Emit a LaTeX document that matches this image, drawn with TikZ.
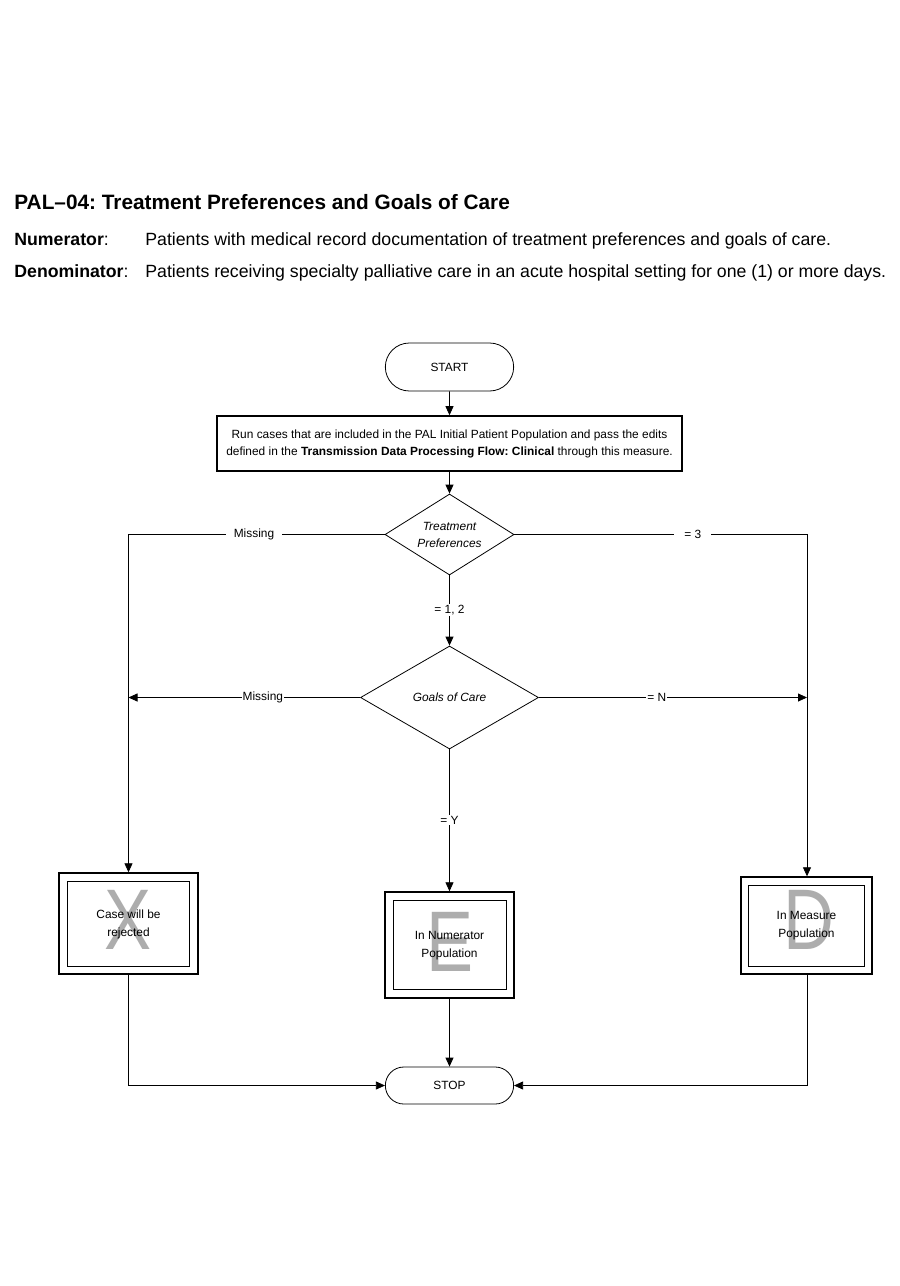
\documentclass[tikz,border=0pt]{standalone}
\usepackage{fontspec}
\setmainfont{Liberation Sans}
\newfontfamily\narrowfont{Liberation Sans}[FakeStretch=0.82]
\usetikzlibrary{arrows.meta,shapes.geometric,shapes.misc}
\frenchspacing
\begin{document}
\begin{tikzpicture}[x=1pt,y=-1pt,line width=0.8pt,
  >={Triangle[length=9pt,width=8pt]},
  hdr/.style={anchor=base west,inner sep=0pt,font=\fontsize{17.7}{20}\selectfont},
  fc/.style={font=\fontsize{11.9}{17}\selectfont},
  term/.style={draw,rounded rectangle,fc,minimum width=135pt},
  proc/.style={draw,line width=1.6pt,fc,align=center,minimum width=465pt,minimum height=55pt,inner sep=0pt},
  dia/.style={draw,diamond,inner sep=0pt},
  dtext/.style={fc,font=\fontsize{11.9}{17}\selectfont\itshape,align=center},
  outerbox/.style={draw,line width=1.4pt,inner sep=0pt},
  innerbox/.style={draw,line width=0.8pt,inner sep=0pt},
  big/.style={text=black!32,font=\narrowfont\fontsize{86}{86}\selectfont,inner sep=0pt},
  btext/.style={fc,font=\fontsize{11.9}{18}\selectfont,align=center},
  lbl/.style={fc,fill=white,inner ysep=1pt},
]
\useasboundingbox (0,0) rectangle (900,1286);
\fill[white] (0,0) rectangle (900,1286);

% header
\node[hdr,font=\bfseries\fontsize{20.8}{23}\selectfont] (title) at (14,209) {PAL–04: Treatment Preferences and Goals of Care};
\node[hdr] (numl) at (14,245) {\textbf{Numerator}:};
\node[hdr] (numt) at (145,245) {Patients with medical record documentation of treatment preferences and goals of care.};
\node[hdr] (denl) at (14,277) {\textbf{Denominator}:};
\node[hdr] (dent) at (145,277) {Patients receiving specialty palliative care in an acute hospital setting for one (1) or more days.};

% nodes
\node[term,minimum height=48pt] (start) at (449.5,367) {START};
\node[proc] (run) at (449.5,443.5) {Run cases that are included in the PAL Initial Patient Population and pass the edits\\defined in the \textbf{Transmission Data Processing Flow: Clinical} through this measure.};
\node[dia,minimum width=129pt,minimum height=81pt] (d1) at (449.5,534.5) {};
\node[dtext] (d1t) at (449.5,534.5) {Treatment\\Preferences};
\node[dia,minimum width=178pt,minimum height=103pt] (d2) at (449.5,697.5) {};
\node[dtext] (d2t) at (449.5,697.5) {Goals of Care};

% box X
\node[outerbox,minimum width=139pt,minimum height=101pt] (bxo) at (128.5,923.5) {};
\node[innerbox,minimum width=122pt,minimum height=85pt] (bxi) at (128.5,923.5) {};
\node[big] (bxl) at (128.5,920) {X};
\node[btext] (bxt) at (128.5,924) {Case will be\\rejected};
% box E
\node[outerbox,minimum width=129pt,minimum height=106pt] (beo) at (449.5,945) {};
\node[innerbox,minimum width=113pt,minimum height=89pt] (bei) at (449.5,945) {};
\node[big] (bel) at (450,942) {E};
\node[btext] (bet) at (449.5,946) {In Numerator\\Population};
% box D
\node[outerbox,minimum width=131pt,minimum height=97pt] (bdo) at (806.5,925.5) {};
\node[innerbox,minimum width=116pt,minimum height=81pt] (bdi) at (806.5,925.5) {};
\node[big] (bdl) at (809,920) {D};
\node[btext] (bdt) at (806.5,926) {In Measure\\Population};

\node[term,minimum height=37pt] (stop) at (449.5,1085.5) {STOP};

% connectors
\coordinate (c1l) at (128.5,534.5);
\coordinate (c1r) at (807,534.5);
\coordinate (c2l) at (128.5,697.5);
\coordinate (c2r) at (807,697.5);

\draw[->] (start) -- (run);
\draw[->] (run) -- (d1);
\draw[->] (d1.west) -- node[lbl,pos=0.51,inner xsep=8pt] (m1) {Missing} (c1l) -- (bxo.north);
\draw[->] (d1.east) -- node[lbl,pos=0.61,inner xsep=10pt] (e3) {= 3} (c1r) -- (c1r |- bdo.north);
\draw[->] (d1) -- node[lbl,pos=0.49] (e12) {= 1, 2} (d2);
\draw[->] (d2.west) -- node[lbl,pos=0.42,inner xsep=1pt] (m2) {Missing} (c2l);
\draw[->] (d2.east) -- node[lbl,pos=0.44,inner xsep=1pt] (en) {= N} (c2r);
\draw[->] (d2) -- node[lbl,pos=0.5] (ey) {= Y} (beo);
\draw[->] (bxo.south) |- (stop.west);
\draw[->] (beo) -- (stop);
\draw[->] (bdo.south -| c1r) |- (stop.east);
\end{tikzpicture}
\end{document}
